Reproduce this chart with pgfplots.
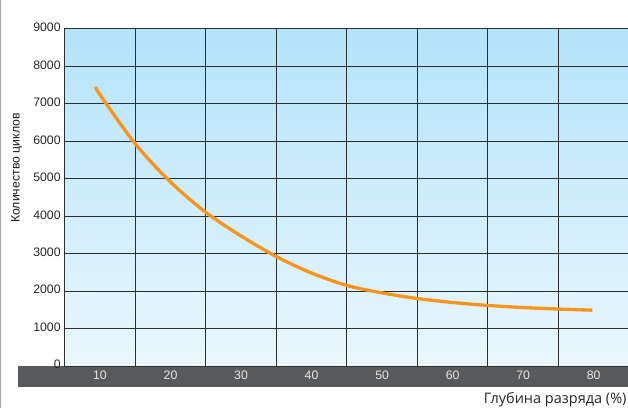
\documentclass[border=0pt]{standalone}
\usepackage{fontspec}
\setmainfont{Liberation Sans}
\newfontfamily\labelfont{Open Sans}
\usepackage{pgfplots}
\pgfplotsset{compat=1.18}

\definecolor{bgtop}{HTML}{B3E3FA}
\definecolor{bgbot}{HTML}{EAF7FD}
\definecolor{curve}{HTML}{F7941D}
\definecolor{barc}{HTML}{58595B}
\definecolor{ticklight}{HTML}{E6E6E6}

\begin{document}
\begin{tikzpicture}[x=1pt,y=1pt]
    \useasboundingbox (0,0) rectangle (628,408);
    % left border line of the original picture
    \draw[black!35, line width=1.2pt] (0.6,0) -- (0.6,408);
    % dark band under the plot, holding the x tick labels
    \fill[barc] (18,21.3) rectangle (640,41.8);

    \begin{axis}[
        at={(64.7pt,42pt)}, anchor=south west,
        scale only axis,
        width=564.3pt, height=337.3pt,
        xmin=5, xmax=85,
        ymin=0, ymax=9000,
        xtick={10,20,...,80},
        minor xtick={15,25,...,75},
        ytick={0,1000,...,9000},
        major tick length=0pt, minor tick length=0pt,
        xmajorgrids=false, xminorgrids=true, ymajorgrids=true,
        grid style={black!82, line width=0.9pt},
        minor grid style={black!82, line width=0.9pt},
        axis line style={black!82, line width=0.9pt},
        axis background/.style={top color=bgtop, bottom color=bgbot},
        scaled y ticks=false,
        /pgf/number format/assume math mode=true,
        yticklabel={\pgfmathprintnumber[fixed,1000 sep={}]{\tick}},
        ticklabel style={font=\fontsize{12.3}{14}\selectfont},
        yticklabel style={text=black!85, xshift=-0.5pt, yshift=1.3pt},
        xticklabel style={text=ticklight, yshift=-1.6pt},
    ]
    \addplot[curve, line width=3.3pt, smooth] coordinates {
        (9.4,7450) (10,7240) (15,5930) (20,4910) (25,4100) (30,3470)
        (35,2920) (40,2480) (45,2150) (50,1950) (55,1800) (60,1695)
        (65,1615) (70,1560) (75,1520) (79.8,1490)
    };
    \end{axis}

    \node[rotate=90, font=\fontsize{12.3}{14}\selectfont, text=black!90] at (16.5,240) {Количество циклов};
    \node[anchor=base east, inner sep=0pt, font=\labelfont\fontsize{14.5}{16}\selectfont, text=black!85] at (626.7,4.5) {Глубина разряда (\%)};
\end{tikzpicture}
\end{document}
